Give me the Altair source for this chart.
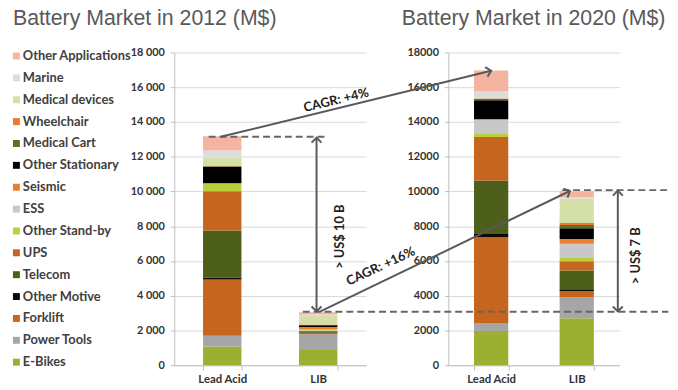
import altair as alt
import pandas as pd

# ---------------- data ----------------
segments = ["E-Bikes", "Power Tools", "Forklift", "Other Motive", "Telecom", "UPS",
            "Other Stand-by", "ESS", "Seismic", "Other Stationary", "Medical Cart",
            "Wheelchair", "Medical devices", "Marine", "Other Applications"]
seg_colors = ["#9bb030", "#a6a6a6", "#c5651e", "#0a0a0a", "#4e5e1b", "#c5651e",
              "#b9d03c", "#c8c8c8", "#ed7d31", "#000000", "#5e6e24",
              "#e87a2a", "#d5e0a8", "#dcdcdc", "#f4b4a0"]
techs = ["Lead Acid", "LIB"]

lead_acid_2012 = [1080, 610, 3250, 110, 2700, 2270, 420, 20, 20, 950, 20, 20, 470, 440, 800]
lib_2012 = [880, 900, 80, 20, 30, 60, 40, 40, 150, 100, 20, 20, 500, 80, 130]
lead_acid_2020 = [1970, 460, 4940, 190, 3070, 2510, 210, 790, 20, 1090, 80, 20, 20, 420, 1170]
lib_2020 = [2700, 1230, 340, 100, 1080, 530, 190, 820, 280, 610, 190, 110, 1410, 90, 340]

y_ticks = [0, 2000, 4000, 6000, 8000, 10000, 12000, 14000, 16000, 18000]

# annotations: x in right-panel category units (Lead Acid 2020 = 0.5, LIB 2020 = 1.5)
dash_x = [-2.80, -1.70, 1.33]
dash_x2 = [-1.42, 2.57, 2.57]
dash_y = [13150, 3080, 10080]

line_x = [-2.66, -1.50, -1.54, 1.98]
line_y = [13150, 3080, 13100, 10050]
line_x2 = [0.50, 1.42, -1.54, 1.98]
line_y2 = [16950, 10030, 3100, 3100]

head_x = [0.50, 1.42, -1.54, -1.54, 1.98, 1.98]
head_y = [16950, 10030, 13100, 3100, 10050, 3100]
head_angle = [76.5, 65.2, 0, 180, 0, 180]

label_text = ["CAGR: +4%", "CAGR: +16%", "> US$ 10 B", "> US$ 7 B"]
label_x = [-1.31, -0.79, -1.27, 2.19]
label_y = [15250, 5690, 7400, 6300]
label_angle = [346.5, 335, 270, 270]

# ---------------- helpers ----------------
def panel_df(la, lib):
    rows = []
    for i, s in enumerate(segments):
        rows.append({"tech": techs[0], "segment": s, "value": la[i], "idx": i})
        rows.append({"tech": techs[1], "segment": s, "value": lib[i], "idx": i})
    return pd.DataFrame(rows)

color_scale = alt.Scale(domain=segments[::-1], range=seg_colors[::-1])
yscale = alt.Scale(domain=[0, 18000])
GREY = "#595959"
LFONT = "Lato"


def y_axis(label_expr):
    return alt.Axis(values=y_ticks, labelExpr=label_expr, labelFont=LFONT,
                    labelFontWeight="bold", labelFontSize=11, labelColor="#333333",
                    gridColor="#d9d9d9", domainColor="#bfbfbf", tickColor="#bfbfbf",
                    tickSize=4, labelPadding=6)


def bars(df, label_expr, width):
    return alt.Chart(df).mark_bar().encode(
        x=alt.X("tech:N", sort=techs, title=None,
                scale=alt.Scale(paddingInner=0.6, paddingOuter=0.3),
                axis=alt.Axis(labelAngle=0, tickBand="extent", labelFont=LFONT,
                              labelFontWeight="bold", labelFontSize=11.5, labelColor="#333333",
                              domainColor="#bfbfbf", tickColor="#bfbfbf", tickSize=5,
                              labelPadding=3)),
        y=alt.Y("value:Q", stack="zero", scale=yscale, title=None, axis=y_axis(label_expr)),
        color=alt.Color("segment:N", scale=color_scale,
                        legend=alt.Legend(title=None, orient="none", legendX=-166, legendY=-3,
                                          symbolType="square",
                                          symbolSize=49, symbolStrokeWidth=0,
                                          labelFont=LFONT, labelFontWeight="bold",
                                          labelFontSize=13, labelColor="#404040",
                                          labelOffset=0, rowPadding=8.1, labelLimit=200)),
        order=alt.Order("idx:Q"),
    ).properties(width=width, height=316)


def title(text, dx):
    return alt.TitleParams(text, anchor="start", frame="group", dx=dx, font="Liberation Sans",
                           fontSize=21.5, fontWeight="normal", color=GREY,
                           baseline="alphabetic", offset=0)


LEFT_FMT = "replace(format(datum.value, ','), ',', ' ')"
RIGHT_FMT = "format(datum.value, 'd')"

left = bars(panel_df(lead_acid_2012, lib_2012), LEFT_FMT, 194).properties(
    title=title("Battery Market in 2012 (M$)", -163))

right_bars = bars(panel_df(lead_acid_2020, lib_2020), RIGHT_FMT, 173)

ax = alt.Scale(domain=[0, 2])
ry = alt.Y("y:Q", scale=yscale, title=None, axis=y_axis(RIGHT_FMT))
dash_df = pd.DataFrame({"x": dash_x, "x2": dash_x2, "y": dash_y})
line_df = pd.DataFrame({"x": line_x, "y": line_y, "x2": line_x2, "y2": line_y2})
head_df = pd.DataFrame({"x": head_x, "y": head_y, "angle": head_angle})
label_df = pd.DataFrame({"text": label_text, "x": label_x, "y": label_y, "angle": label_angle})

dashes = alt.Chart(dash_df).mark_rule(color="#666666", strokeWidth=2, strokeDash=[7, 4]).encode(
    x=alt.X("x:Q", scale=ax, axis=None), x2="x2:Q", y=ry)
lines = alt.Chart(line_df).mark_rule(color=GREY, strokeWidth=2).encode(
    x=alt.X("x:Q", scale=ax, axis=None), x2="x2:Q", y=ry, y2="y2:Q")
heads = alt.Chart(head_df).mark_point(shape="M -1 1 L 0 0 L 1 1", filled=False, color=GREY,
                                      strokeWidth=2, size=100, opacity=1).encode(
    x=alt.X("x:Q", scale=ax, axis=None), y=ry,
    angle=alt.Angle("angle:Q", scale=None))
labels = alt.Chart(label_df).mark_text(font=LFONT, fontWeight="bold", fontSize=13,
                                       color="#222222").encode(
    x=alt.X("x:Q", scale=ax, axis=None), y=ry,
    text="text:N",
    angle=alt.Angle("angle:Q", scale=None))

right = alt.layer(right_bars, dashes, lines, heads, labels).resolve_scale(x="independent").properties(
    title=title("Battery Market in 2020 (M$)", -47))

chart = alt.hconcat(left, right, spacing=83, bounds="flush").resolve_scale(
    color="shared", x="independent", y="independent"
).properties(padding={"left": 2, "top": -2, "right": 0, "bottom": 0}).configure_view(
    stroke="transparent")

chart.save("out.html", embed_options={"renderer": "svg", "actions": False})
